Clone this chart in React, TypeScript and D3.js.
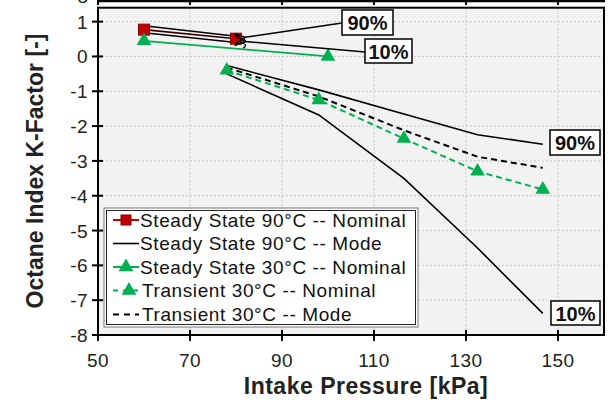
import React from "react";
import * as d3 from "d3";

const xTicks = [50, 70, 90, 110, 130, 150];
const yTicks = [1, 0, -1, -2, -3, -4, -5, -6, -7, -8];

// Steady State 90°C -- Nominal
const ss90NomX = [60, 80];
const ss90NomY = [0.77, 0.51];
// Steady State 90°C -- Mode (90% and 10%) upper group
const ss90Mode90X = [60, 80];
const ss90Mode90Y = [0.88, 0.58];
const ss90Mode10X = [60, 80];
const ss90Mode10Y = [0.68, 0.4];
// Steady State 30°C -- Nominal
const ss30NomX = [60, 100];
const ss30NomY = [0.45, 0.0];
// Transient 30°C -- Nominal
const tr30NomX = [78, 98, 116.5, 132.5, 146.7];
const tr30NomY = [-0.4, -1.25, -2.36, -3.3, -3.82];
// Transient 30°C -- Mode 90%
const trMode90X = [78, 98, 116.5, 132.5, 146.7];
const trMode90Y = [-0.26, -0.96, -1.65, -2.25, -2.52];
// Transient 30°C -- Mode (dashed)
const trModeDX = [78, 98, 116.5, 132.5, 146.7];
const trModeDY = [-0.32, -1.15, -2.12, -2.88, -3.2];
// Transient 30°C -- Mode 10%
const trMode10X = [78, 98, 116.5, 132.5, 146.7];
const trMode10Y = [-0.5, -1.68, -3.5, -5.5, -7.38];

const legendLabels = [
  "Steady State 90°C -- Nominal",
  "Steady State 90°C -- Mode",
  "Steady State 30°C -- Nominal",
  "Transient 30°C -- Nominal",
  "Transient 30°C -- Mode",
];

const RED = "#C00000";
const GREEN = "#00B050";
const FONT = "'Liberation Sans', Arial, sans-serif";

const W = 610, H = 400;
const x = d3.scaleLinear().domain([50, 160]).range([98, 604]);
const y = d3.scaleLinear().domain([-8, 1.4]).range([335, 7.7]);

const zip = (xs: number[], ys: number[]) => xs.map((v, i) => [v, ys[i]] as [number, number]);
const line = d3.line<[number, number]>().x(d => x(d[0])).y(d => y(d[1]));

function Tri({ cx, cy, s = 7, fill = GREEN }: { cx: number; cy: number; s?: number; fill?: string }) {
  const p = d3.symbol(d3.symbolTriangle, s * s * 1.9)();
  return <path d={p || ""} transform={`translate(${cx},${cy})`} fill={fill} />;
}
function Sq({ cx, cy, s = 11 }: { cx: number; cy: number; s?: number }) {
  return <rect x={cx - s / 2} y={cy - s / 2} width={s} height={s} fill={RED} stroke="#8b0000" strokeWidth={1} />;
}

export default function App() {
  const plotL = x(50), plotR = x(160), plotT = y(1.4), plotB = y(-8);
  const legX = 104, legY = 208, legW = 314, legH = 119;
  const rowY = [220, 243.5, 267, 290.5, 314.5];
  return (
    <svg width={W} height={H} style={{ position: "absolute", left: 0, top: 0, background: "#fff" }} fontFamily={FONT}>
      <defs>
        <marker id="arr" viewBox="0 0 12 12" refX="1" refY="6" markerWidth="12" markerHeight="12" markerUnits="userSpaceOnUse" orient="auto-start-reverse">
          <path d="M11,1 L1,6 L11,11" fill="none" stroke="#000" strokeWidth={1.6} />
        </marker>
        <clipPath id="clip"><rect x={plotL} y={plotT} width={plotR - plotL} height={plotB - plotT} /></clipPath>
      </defs>
      {/* top partial axis of upper panel */}
      <line x1={plotL} x2={plotR + 1} y1={1} y2={1} stroke="#000" strokeWidth={2.5} />
      {xTicks.map(t => <line key={"tt" + t} x1={x(t)} x2={x(t)} y1={0} y2={5} stroke="#000" strokeWidth={2} />)}
      <text x={88} y={3} textAnchor="end" fontSize={19} fill="#222">-8</text>

      {/* plot background */}
      <rect x={plotL} y={plotT} width={plotR - plotL} height={plotB - plotT} fill="#f2f2f2" />
      {/* grid */}
      {xTicks.slice(1).map(t => <line key={"gx" + t} x1={x(t)} x2={x(t)} y1={plotT} y2={plotB} stroke="#c8c8c8" strokeWidth={1} strokeDasharray="2,2" />)}
      {yTicks.slice(0, -1).map(t => <line key={"gy" + t} x1={plotL} x2={plotR} y1={y(t)} y2={y(t)} stroke="#c8c8c8" strokeWidth={1} strokeDasharray="2,2" />)}

      <g clipPath="url(#clip)">
        {/* steady state 90 mode lines */}
        <path d={line(zip(ss90Mode90X, ss90Mode90Y)) || ""} fill="none" stroke="#000" strokeWidth={1.6} />
        <path d={line(zip(ss90Mode10X, ss90Mode10Y)) || ""} fill="none" stroke="#000" strokeWidth={1.6} />
        <path d={line(zip(ss90NomX, ss90NomY)) || ""} fill="none" stroke="#3a0000" strokeWidth={1.6} />
        {/* steady state 30 nominal */}
        <path d={line(zip(ss30NomX, ss30NomY)) || ""} fill="none" stroke={GREEN} strokeWidth={1.8} />
        {/* transient mode lines */}
        <path d={line(zip(trMode90X, trMode90Y)) || ""} fill="none" stroke="#000" strokeWidth={1.6} />
        <path d={line(zip(trMode10X, trMode10Y)) || ""} fill="none" stroke="#000" strokeWidth={1.6} />
        <path d={line(zip(trModeDX, trModeDY)) || ""} fill="none" stroke="#000" strokeWidth={2} strokeDasharray="6,4" />
        <path d={line(zip(tr30NomX, tr30NomY)) || ""} fill="none" stroke={GREEN} strokeWidth={2} strokeDasharray="6,4" />
        {/* markers */}
        {zip(ss90NomX, ss90NomY).map((d, i) => <Sq key={"sq" + i} cx={x(d[0])} cy={y(d[1])} />)}
        {zip(ss30NomX, ss30NomY).map((d, i) => <Tri key={"t1" + i} cx={x(d[0])} cy={y(d[1])} />)}
        {zip(tr30NomX, tr30NomY).map((d, i) => <Tri key={"t2" + i} cx={x(d[0])} cy={y(d[1])} />)}
      </g>

      {/* frame */}
      <rect x={plotL} y={plotT} width={plotR - plotL} height={plotB - plotT} fill="none" stroke="#000" strokeWidth={2} />
      {/* ticks */}
      {xTicks.map(t => <line key={"xt" + t} x1={x(t)} x2={x(t)} y1={plotB - 5} y2={plotB + 6} stroke="#000" strokeWidth={2} />)}
      {yTicks.map(t => <line key={"yt" + t} x1={plotL - 6} x2={plotL + 5} y1={y(t)} y2={y(t)} stroke="#000" strokeWidth={2} />)}
      {xTicks.map(t => <text key={"xl" + t} x={x(t)} y={367} textAnchor="middle" fontSize={19} letterSpacing={0.4} fill="#222">{t}</text>)}
      {yTicks.map(t => <text key={"yl" + t} x={88} y={y(t) + 7} textAnchor="end" fontSize={19} letterSpacing={0.4} fill="#222">{t}</text>)}
      <text x={366} y={394} textAnchor="middle" fontSize={23} letterSpacing={0.5} fontWeight="bold" fill="#222">Intake Pressure [kPa]</text>
      <text transform={`translate(43,${171}) rotate(-90)`} textAnchor="middle" fontSize={23} fontWeight="bold" fill="#222">Octane Index K-Factor [-]</text>

      {/* annotations upper */}
      <line x1={342} y1={23} x2={x(80) + 9} y2={y(ss90Mode90Y[1]) + 1} stroke="#000" strokeWidth={1.5} markerEnd="url(#arr)" />
      <line x1={365} y1={52} x2={x(80) + 9} y2={y(ss90Mode10Y[1]) - 1} stroke="#000" strokeWidth={1.5} markerEnd="url(#arr)" />
      <path d={`M${x(80) + 7},${y(ss90Mode90Y[1]) + 2} q5,3 0,5 q5,2 0,5`} fill="none" stroke="#000" strokeWidth={1.3} />
      <rect x={342} y={10} width={51} height={25} fill="#fff" stroke="#000" strokeWidth={1.5} />
      <text x={367.5} y={30} textAnchor="middle" fontSize={20} fontWeight="bold" fill="#111">90%</text>
      <rect x={365} y={39} width={47} height={24} fill="#fff" stroke="#000" strokeWidth={1.5} />
      <text x={388.5} y={58.5} textAnchor="middle" fontSize={20} fontWeight="bold" fill="#111">10%</text>
      {/* annotations right */}
      <rect x={550} y={130} width={50} height={25} fill="#fff" stroke="#000" strokeWidth={1.5} />
      <text x={575} y={150} textAnchor="middle" fontSize={20} fontWeight="bold" fill="#111">90%</text>
      <rect x={551} y={301} width={49} height={24} fill="#fff" stroke="#000" strokeWidth={1.5} />
      <text x={575.5} y={320.5} textAnchor="middle" fontSize={20} fontWeight="bold" fill="#111">10%</text>

      {/* legend */}
      <rect x={legX} y={legY} width={legW} height={legH} fill="#fff" stroke="#777" strokeWidth={1} />
      <rect x={legX + 2.5} y={legY + 2.5} width={legW - 5} height={legH - 5} fill="none" stroke="#222" strokeWidth={1} />
      {/* row 0 */}
      <line x1={113} x2={139} y1={rowY[0]} y2={rowY[0]} stroke={RED} strokeWidth={2} />
      <Sq cx={126} cy={rowY[0]} s={10} />
      {/* row 1 */}
      <line x1={113} x2={139} y1={rowY[1]} y2={rowY[1]} stroke="#000" strokeWidth={1.6} />
      {/* row 2 */}
      <line x1={113} x2={139} y1={rowY[2]} y2={rowY[2]} stroke={GREEN} strokeWidth={2} />
      <Tri cx={126} cy={rowY[2]} />
      {/* row 3 */}
      <line x1={113} x2={139} y1={rowY[3]} y2={rowY[3]} stroke={GREEN} strokeWidth={2} strokeDasharray="5,5" />
      <Tri cx={129} cy={rowY[3]} />
      {/* row 4 */}
      <line x1={113} x2={139} y1={rowY[4]} y2={rowY[4]} stroke="#000" strokeWidth={2} strokeDasharray="6,5" />
      {legendLabels.map((l, i) => (
        <text key={"lg" + i} x={i >= 3 ? 142 : 140} y={rowY[i] + 6.5} fontSize={19} letterSpacing={0.6} fill="#111">{l}</text>
      ))}
    </svg>
  );
}
